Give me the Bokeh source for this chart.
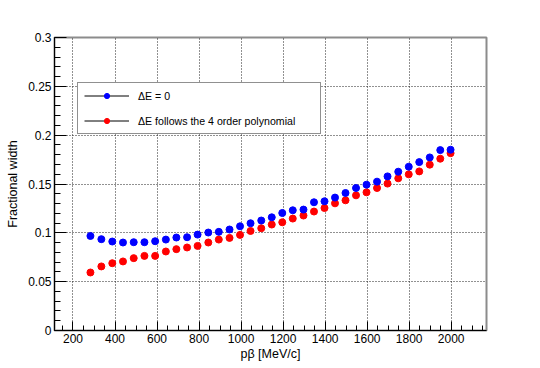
from bokeh.plotting import figure
from bokeh.models import (Range1d, FixedTicker, Legend, LegendItem, ColumnDataSource)
from bokeh.embed import file_html
from bokeh.resources import INLINE

# ---- data ----
pbeta = [283, 335, 387, 438, 489, 540, 591, 642, 692, 743, 793, 844, 894, 945, 995,
         1045, 1096, 1146, 1196, 1246, 1297, 1347, 1397, 1447, 1497, 1547, 1597, 1647,
         1697, 1748, 1798, 1848, 1898, 1948, 1997]
width_de0 = [0.0968, 0.0935, 0.0911, 0.0901, 0.0904, 0.0904, 0.0914, 0.0931, 0.0952, 0.0955,
             0.0982, 0.1003, 0.1010, 0.1034, 0.1067, 0.1098, 0.1126, 0.1159, 0.1203, 0.1231,
             0.1238, 0.1313, 0.1323, 0.1361, 0.1408, 0.1459, 0.1493, 0.1524, 0.1578, 0.1626,
             0.1677, 0.1724, 0.1772, 0.1847, 0.1851]
width_poly = [0.0594, 0.0656, 0.0689, 0.0707, 0.0741, 0.0764, 0.0764, 0.0809, 0.0833, 0.0850,
              0.0866, 0.0901, 0.0931, 0.0948, 0.0979, 0.1019, 0.1047, 0.1085, 0.1108, 0.1146,
              0.1177, 0.1218, 0.1254, 0.1302, 0.1333, 0.1384, 0.1415, 0.1459, 0.1504, 0.1558,
              0.1599, 0.1629, 0.1698, 0.1759, 0.1816]
label_de0 = "\u0394E = 0"
label_poly = "\u0394E follows the 4 order polynomial"
x_major = [200, 400, 600, 800, 1000, 1200, 1400, 1600, 1800, 2000]
x_minor = list(range(150, 2200, 50))
y_major = [0, 0.05, 0.1, 0.15, 0.2, 0.25, 0.3]
y_minor = [i / 100 for i in range(0, 31)]

FONT = "Liberation Sans"
NAN = float("nan")

p = figure(width=532, height=364, output_backend="svg", toolbar_location=None,
           x_range=Range1d(112, 2168), y_range=Range1d(0, 0.3),
           min_border_left=54, min_border_right=46, min_border_top=37, min_border_bottom=34)
p.background_fill_color = "white"
p.border_fill_color = "white"
p.outline_line_color = "#8c8c8c"
p.outline_line_width = 2

# grids
p.xgrid.ticker = FixedTicker(ticks=x_major)
p.ygrid.ticker = FixedTicker(ticks=y_major)
for g in (p.xgrid, p.ygrid):
    g.grid_line_color = "#222222"
    g.grid_line_dash = "1 2"
    g.grid_line_width = 1

# axes
p.xaxis.ticker = FixedTicker(ticks=x_major, minor_ticks=x_minor)
p.yaxis.ticker = FixedTicker(ticks=y_major, minor_ticks=y_minor)
p.xaxis.axis_label = "p\u03b2 [MeV/c]"
p.yaxis.axis_label = "Fractional width"
for ax in (p.xaxis, p.yaxis):
    ax.axis_line_color = "black"
    ax.axis_line_width = 1
    ax.major_tick_line_color = "black"
    ax.minor_tick_line_color = "black"
    ax.major_tick_out = 0
    ax.minor_tick_out = 0
    ax.major_label_text_font = FONT
    ax.major_label_text_font_size = "12px"
    ax.major_label_text_color = "black"
    ax.major_label_standoff = 3
    ax.axis_label_text_font = FONT
    ax.axis_label_text_font_size = "12.5px"
    ax.axis_label_text_font_style = "normal"
    ax.axis_label_text_color = "black"
p.xaxis.major_tick_in = 9
p.xaxis.minor_tick_in = 5
p.yaxis.major_tick_in = 12
p.yaxis.minor_tick_in = 6
p.xaxis.axis_label_standoff = 1
p.yaxis.axis_label_standoff = 5
p.yaxis.major_label_orientation = "horizontal"

src_de0 = ColumnDataSource(dict(x=pbeta, y=width_de0))
src_poly = ColumnDataSource(dict(x=pbeta, y=width_poly))

r_poly = p.scatter("x", "y", source=src_poly, size=7, color="#ff0000", marker="circle")
r_de0 = p.scatter("x", "y", source=src_de0, size=7, color="#0000ff", marker="circle")

# legend line glyphs (no visible data; only for the legend sample)
l_de0 = p.line(x=[NAN], y=[NAN], line_color="black", line_width=1)
l_poly = p.line(x=[NAN], y=[NAN], line_color="black", line_width=1)

legend = Legend(items=[LegendItem(label=label_de0, renderers=[l_de0, r_de0]),
                       LegendItem(label=label_poly, renderers=[l_poly, r_poly])],
                location=(23, 196), orientation="vertical",
                padding=6, margin=0, spacing=12,
                glyph_width=45, glyph_height=13, label_height=13, label_width=176,
                label_standoff=9,
                label_text_font=FONT, label_text_font_size="10.6px", label_text_color="black",
                border_line_color="#222222", border_line_width=1,
                background_fill_color="white", background_fill_alpha=1.0)
p.add_layout(legend)

open("out.html", "w").write(file_html(p, INLINE))
